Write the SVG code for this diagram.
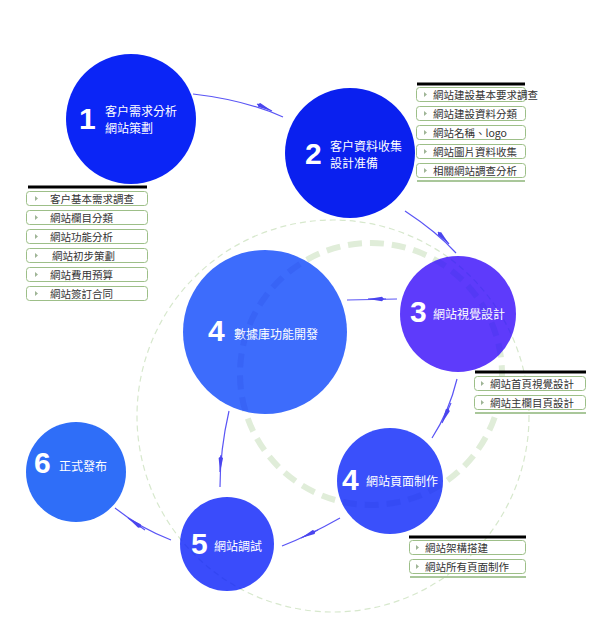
<svg xmlns="http://www.w3.org/2000/svg" width="595" height="619" viewBox="0 0 595 619">
<style>
.num{font-family:"Liberation Sans",Arial,sans-serif;font-weight:bold;font-size:30px;fill:#fff}
.lbl{font-family:"Noto Sans CJK TC","Noto Sans CJK SC",sans-serif;font-size:12px;fill:#fff}
.item{font-family:"Noto Sans CJK TC","Noto Sans CJK SC",sans-serif;font-size:10.5px;fill:#333}
.box{fill:#fff;stroke:#9dbf88;stroke-width:1}
.bar{stroke:#000;stroke-width:3}
.foot{stroke:#a9c79a;stroke-width:2}
.bul{fill:#9fb596}
.conn{fill:none;stroke:#5a55f5;stroke-width:1.2}
.ring{fill:none;stroke:#e0edd9;stroke-width:6;stroke-dasharray:14,8}
.thin{fill:none;stroke:#d7e8cd;stroke-width:1.2;stroke-dasharray:6,4}
</style>
<defs>
<marker id="arr" viewBox="0 0 16 6" refX="16" refY="3" markerWidth="16" markerHeight="6" markerUnits="userSpaceOnUse" orient="auto">
<path d="M0,3 L2,0.8 L16,3 L2,5.2 Z" fill="#4a45ee"/>
</marker>
<clipPath id="cc">
<circle cx="458" cy="314" r="58"/>
<circle cx="265" cy="332" r="82"/>
<circle cx="390" cy="481" r="53"/>
<circle cx="227" cy="544" r="47"/>
</clipPath>
</defs>
<rect width="595" height="619" fill="#fff"/>

<g id="rings">
<circle class="thin" cx="333" cy="416" r="196"/>
<circle class="ring" cx="371" cy="374" r="131"/>
</g>

<g id="node1"><circle cx="131" cy="119" r="65" fill="#0b25f6"/><text class="num" x="79" y="129">1</text><text class="lbl" x="105" y="116">客户需求分析</text><text class="lbl" x="105" y="133">網站策劃</text></g>
<g id="node2"><circle cx="350" cy="153" r="65" fill="#0a20ef"/><text class="num" x="305" y="164">2</text><text class="lbl" x="330" y="151">客户資料收集</text><text class="lbl" x="330" y="168">設計准備</text></g>
<g id="node3"><circle cx="458" cy="314" r="58" fill="#5e3bfb"/><text class="num" x="410" y="322">3</text><text class="lbl" x="433" y="319">網站視覺設計</text></g>
<g id="node4"><circle cx="265" cy="332" r="82" fill="#3d6cfc"/><text class="num" x="208" y="341">4</text><text class="lbl" x="234" y="339">數據庫功能開發</text></g>
<g id="node4b"><circle cx="390" cy="481" r="53" fill="#3a50fb"/><text class="num" x="342" y="490">4</text><text class="lbl" x="366" y="486">網站頁面制作</text></g>
<g id="node5"><circle cx="227" cy="544" r="47" fill="#3a4cfb"/><text class="num" x="191" y="554">5</text><text class="lbl" x="214" y="551">網站調試</text></g>
<g id="node6"><circle cx="76" cy="472" r="50" fill="#2f6ef8"/><text class="num" x="34" y="473">6</text><text class="lbl" x="59" y="471">正式發布</text></g>

<g id="overlay" clip-path="url(#cc)">
<circle cx="371" cy="374" r="131" fill="none" stroke="#1830d0" stroke-opacity="0.13" stroke-width="6" stroke-dasharray="14,8"/>
<circle cx="333" cy="416" r="196" fill="none" stroke="#1830d0" stroke-opacity="0.2" stroke-width="1.2" stroke-dasharray="6,4"/>
</g>

<g id="connectors">
<path class="conn" d="M193,94 Q245,100 283,117"/>
<path class="conn" d="M257,104 L272,111" marker-end="url(#arr)"/>
<path class="conn" d="M405,211 Q437,232 456,253"/>
<path class="conn" d="M438,232 L449,244" marker-end="url(#arr)"/>
<path class="conn" d="M397,299 L347,300"/>
<path class="conn" d="M386,299 L368,299" marker-end="url(#arr)"/>
<path class="conn" d="M457,379 Q449,412 432,438"/>
<path class="conn" d="M451,403 L442,423" marker-end="url(#arr)"/>
<path class="conn" d="M340,518 Q310,535 282,546"/>
<path class="conn" d="M318,530 L301,538" marker-end="url(#arr)"/>
<path class="conn" d="M229,411 Q220,450 220,487"/>
<path class="conn" d="M221,455 L220,472" marker-end="url(#arr)"/>
<path class="conn" d="M171,540 Q140,528 115,508"/>
<path class="conn" d="M145,530 L128,518" marker-end="url(#arr)"/>
</g>

<g id="list1">
<line class="bar" x1="28" y1="187" x2="147" y2="187"/>
<rect class="box" x="26.5" y="191.5" width="121" height="14" rx="3"/><path class="bul" d="M35,196 L38,198.5 L35,201 Z"/><text class="item" x="50" y="203">客户基本需求調查</text>
<rect class="box" x="26.5" y="210.5" width="121" height="14" rx="3"/><path class="bul" d="M35,215 L38,217.5 L35,220 Z"/><text class="item" x="50" y="222">網站欄目分類</text>
<rect class="box" x="26.5" y="229.5" width="121" height="14" rx="3"/><path class="bul" d="M35,234 L38,236.5 L35,239 Z"/><text class="item" x="50" y="241">網站功能分析</text>
<rect class="box" x="26.5" y="248.5" width="121" height="14" rx="3"/><path class="bul" d="M35,253 L38,255.5 L35,258 Z"/><text class="item" x="52" y="260">網站初步策劃</text>
<rect class="box" x="26.5" y="267.5" width="121" height="14" rx="3"/><path class="bul" d="M35,272 L38,274.5 L35,277 Z"/><text class="item" x="50" y="279">網站費用預算</text>
<rect class="box" x="26.5" y="286.5" width="121" height="14" rx="3"/><path class="bul" d="M35,291 L38,293.5 L35,296 Z"/><text class="item" x="50" y="298">網站簽訂合同</text>
</g>

<g id="list2">
<line class="bar" x1="417" y1="84" x2="525" y2="84"/>
<rect class="box" x="416.5" y="87.5" width="109" height="14" rx="3"/><path class="bul" d="M424,92 L427,94.5 L424,97 Z"/><text class="item" x="433" y="99">網站建設基本要求調查</text>
<rect class="box" x="416.5" y="106.5" width="109" height="14" rx="3"/><path class="bul" d="M424,111 L427,113.5 L424,116 Z"/><text class="item" x="433" y="118">網站建設資料分類</text>
<rect class="box" x="416.5" y="125.5" width="109" height="14" rx="3"/><path class="bul" d="M424,130 L427,132.5 L424,135 Z"/><text class="item" x="433" y="137">網站名稱、logo</text>
<rect class="box" x="416.5" y="144.5" width="109" height="14" rx="3"/><path class="bul" d="M424,149 L427,151.5 L424,154 Z"/><text class="item" x="433" y="156">網站圖片資料收集</text>
<rect class="box" x="416.5" y="163.5" width="109" height="14" rx="3"/><path class="bul" d="M424,168 L427,170.5 L424,173 Z"/><text class="item" x="433" y="175">相關網站調查分析</text>
<line class="foot" x1="417" y1="181" x2="525" y2="181"/>
</g>

<g id="list3">
<line class="bar" x1="475" y1="372" x2="586" y2="372"/>
<rect class="box" x="474.5" y="376.5" width="111" height="14" rx="3"/><path class="bul" d="M481,381 L484,383.5 L481,386 Z"/><text class="item" x="490" y="388">網站首頁視覺設計</text>
<rect class="box" x="474.5" y="395.5" width="111" height="14" rx="3"/><path class="bul" d="M481,400 L484,402.5 L481,405 Z"/><text class="item" x="490" y="407">網站主欄目頁設計</text>
<line class="foot" x1="475" y1="413" x2="586" y2="413"/>
</g>

<g id="list4">
<line class="bar" x1="409" y1="537" x2="526" y2="537"/>
<rect class="box" x="409.5" y="540.5" width="116" height="14" rx="3"/><path class="bul" d="M416,545 L419,547.5 L416,550 Z"/><text class="item" x="425" y="552">網站架構搭建</text>
<rect class="box" x="409.5" y="559.5" width="116" height="14" rx="3"/><path class="bul" d="M416,564 L419,566.5 L416,569 Z"/><text class="item" x="425" y="571">網站所有頁面制作</text>
<line class="foot" x1="410" y1="577" x2="526" y2="577"/>
</g>
</svg>
